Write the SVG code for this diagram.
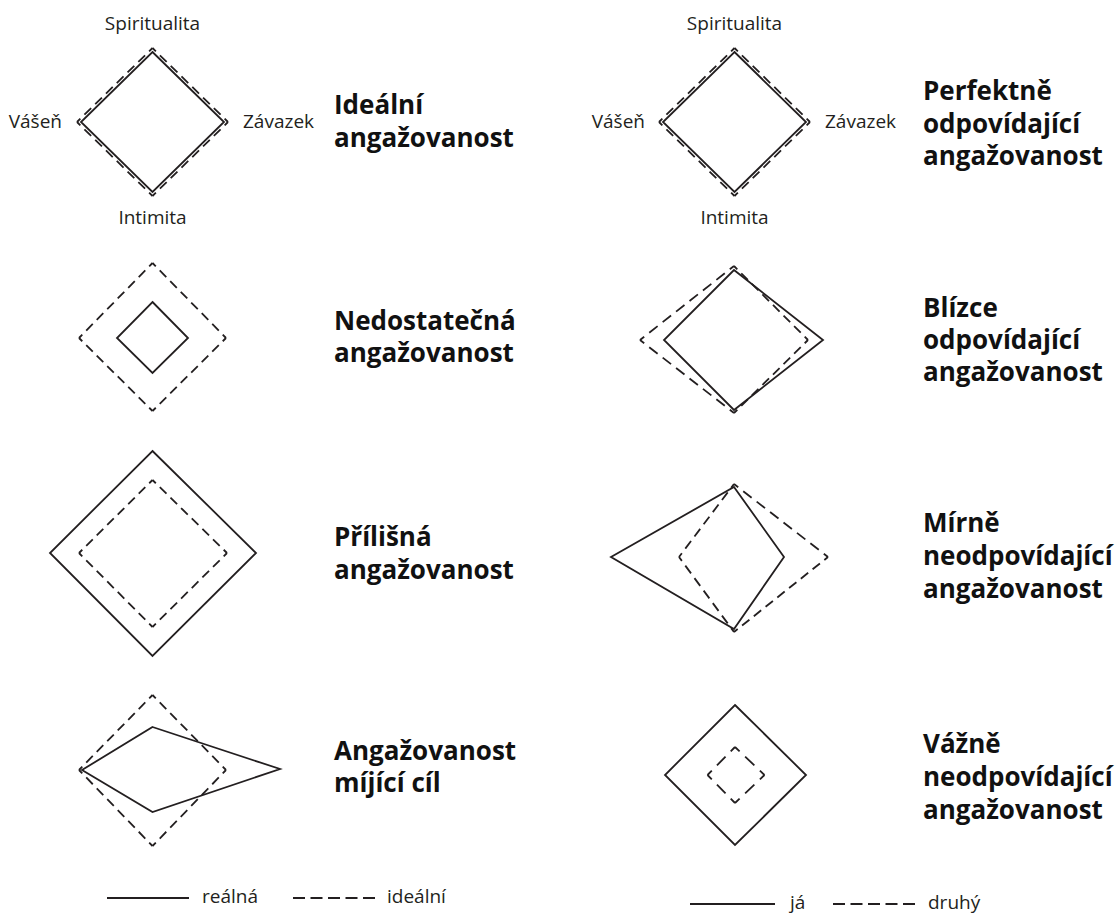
<svg xmlns="http://www.w3.org/2000/svg" width="1115" height="920" viewBox="0 0 1115 920">
  <style>
    .bg { fill: #ffffff; }
    .solid { fill: none; stroke: #231f20; stroke-width: 1.8; stroke-linejoin: miter; }
    .dash line { stroke: #231f20; stroke-width: 1.8; stroke-dasharray: 10 6; stroke-dashoffset: 5; fill: none; }
    .key-solid { stroke: #231f20; stroke-width: 1.8; }
    .key-dash { stroke: #231f20; stroke-width: 1.8; stroke-dasharray: 12 5.5; }
    .axis { font-family: "Open Sans", "Liberation Sans", sans-serif; font-size: 19px; fill: #231f20; }
    .title { font-family: "Open Sans", "Liberation Sans", sans-serif; font-size: 26px; font-weight: 700; fill: #111111; }
  </style>

  <rect class="bg" x="0" y="0" width="1115" height="920"/>

  <!-- Left column: real vs. ideal commitment -->
  <g id="ideal-commitment">
    <g class="dash">
      <line x1="152.5" y1="48" x2="228" y2="122" pathLength="112"/>
      <line x1="228" y1="122" x2="152.5" y2="196" pathLength="112"/>
      <line x1="152.5" y1="196" x2="77" y2="122" pathLength="112"/>
      <line x1="77" y1="122" x2="152.5" y2="48" pathLength="112"/>
    </g>
    <polygon class="solid" points="152.5,52 224,122 152.5,192 81,122"/>
    <text class="axis" x="152.5" y="30" text-anchor="middle">Spiritualita</text>
    <text class="axis" x="62" y="128" text-anchor="end">Vášeň</text>
    <text class="axis" x="243" y="128">Závazek</text>
    <text class="axis" x="152.5" y="224" text-anchor="middle">Intimita</text>
    <text class="title" x="334" y="114">Ideální</text>
    <text class="title" x="334" y="147">angažovanost</text>
  </g>

  <g id="insufficient-commitment">
    <g class="dash">
      <line x1="152.5" y1="263" x2="226" y2="338" pathLength="112"/>
      <line x1="226" y1="338" x2="152.5" y2="411" pathLength="112"/>
      <line x1="152.5" y1="411" x2="79" y2="338" pathLength="112"/>
      <line x1="79" y1="338" x2="152.5" y2="263" pathLength="112"/>
    </g>
    <polygon class="solid" points="152.5,302 188,338 152.5,373 117,338"/>
    <text class="title" x="334" y="330">Nedostatečná</text>
    <text class="title" x="334" y="362">angažovanost</text>
  </g>

  <g id="excessive-commitment">
    <polygon class="solid" points="152.5,451 256,553 152.5,656 50,553"/>
    <g class="dash">
      <line x1="152.5" y1="480" x2="227" y2="553" pathLength="112"/>
      <line x1="227" y1="553" x2="152.5" y2="627" pathLength="112"/>
      <line x1="152.5" y1="627" x2="79" y2="553" pathLength="112"/>
      <line x1="79" y1="553" x2="152.5" y2="480" pathLength="112"/>
    </g>
    <text class="title" x="334" y="546">Přílišná</text>
    <text class="title" x="334" y="579">angažovanost</text>
  </g>

  <g id="misdirected-commitment">
    <g class="dash">
      <line x1="152.5" y1="695" x2="226" y2="770" pathLength="112"/>
      <line x1="226" y1="770" x2="152.5" y2="846" pathLength="112"/>
      <line x1="152.5" y1="846" x2="79" y2="770" pathLength="112"/>
      <line x1="79" y1="770" x2="152.5" y2="695" pathLength="112"/>
    </g>
    <polygon class="solid" points="152.5,727 280,769 152.5,812 82,770"/>
    <text class="title" x="334" y="760">Angažovanost</text>
    <text class="title" x="334" y="792">míjící cíl</text>
  </g>

  <g id="legend-real-ideal">
    <line class="key-solid" x1="107" y1="898" x2="189" y2="898"/>
    <text class="axis" x="202" y="903">reálná</text>
    <line class="key-dash" x1="293" y1="898" x2="375" y2="898"/>
    <text class="axis" x="387" y="903">ideální</text>
  </g>

  <!-- Right column: self vs. partner -->
  <g id="perfect-match">
    <g class="dash">
      <line x1="734.5" y1="48" x2="810" y2="122" pathLength="112"/>
      <line x1="810" y1="122" x2="734.5" y2="196" pathLength="112"/>
      <line x1="734.5" y1="196" x2="659" y2="122" pathLength="112"/>
      <line x1="659" y1="122" x2="734.5" y2="48" pathLength="112"/>
    </g>
    <polygon class="solid" points="734.5,52 806,122 734.5,192 663,122"/>
    <text class="axis" x="734.5" y="30" text-anchor="middle">Spiritualita</text>
    <text class="axis" x="645" y="128" text-anchor="end">Vášeň</text>
    <text class="axis" x="825" y="128">Závazek</text>
    <text class="axis" x="734.5" y="224" text-anchor="middle">Intimita</text>
    <text class="title" x="923" y="100">Perfektně</text>
    <text class="title" x="923" y="133">odpovídající</text>
    <text class="title" x="923" y="165">angažovanost</text>
  </g>

  <g id="close-match">
    <g class="dash">
      <line x1="734" y1="266" x2="808" y2="340" pathLength="112"/>
      <line x1="808" y1="340" x2="734" y2="413" pathLength="112"/>
      <line x1="734" y1="413" x2="640" y2="340" pathLength="112"/>
      <line x1="640" y1="340" x2="734" y2="266" pathLength="112"/>
    </g>
    <polygon class="solid" points="734,270 823,340 734,410 664,340"/>
    <text class="title" x="923" y="317">Blízce</text>
    <text class="title" x="923" y="349">odpovídající</text>
    <text class="title" x="923" y="381">angažovanost</text>
  </g>

  <g id="mild-mismatch">
    <g class="dash">
      <line x1="734" y1="484" x2="828" y2="557" pathLength="112"/>
      <line x1="828" y1="557" x2="734" y2="632" pathLength="128"/>
      <line x1="734" y1="632" x2="679" y2="557" pathLength="96"/>
      <line x1="679" y1="557" x2="734" y2="484" pathLength="96"/>
    </g>
    <polygon class="solid" points="734,487 784,557 734,629 611,557"/>
    <text class="title" x="923" y="532">Mírně</text>
    <text class="title" x="923" y="565">neodpovídající</text>
    <text class="title" x="923" y="598">angažovanost</text>
  </g>

  <g id="severe-mismatch">
    <polygon class="solid" points="735,705 806,775 735,845 665,775"/>
    <g class="dash">
      <line x1="735" y1="747" x2="764.5" y2="775" pathLength="32"/>
      <line x1="764.5" y1="775" x2="735" y2="803" pathLength="32"/>
      <line x1="735" y1="803" x2="707.5" y2="775" pathLength="32"/>
      <line x1="707.5" y1="775" x2="735" y2="747" pathLength="32"/>
    </g>
    <text class="title" x="923" y="753">Vážně</text>
    <text class="title" x="923" y="786">neodpovídající</text>
    <text class="title" x="923" y="819">angažovanost</text>
  </g>

  <g id="legend-self-other">
    <line class="key-solid" x1="690" y1="904" x2="775" y2="904"/>
    <text class="axis" x="790" y="909">já</text>
    <line class="key-dash" x1="833" y1="904" x2="915" y2="904"/>
    <text class="axis" x="928" y="909">druhý</text>
  </g>
</svg>
